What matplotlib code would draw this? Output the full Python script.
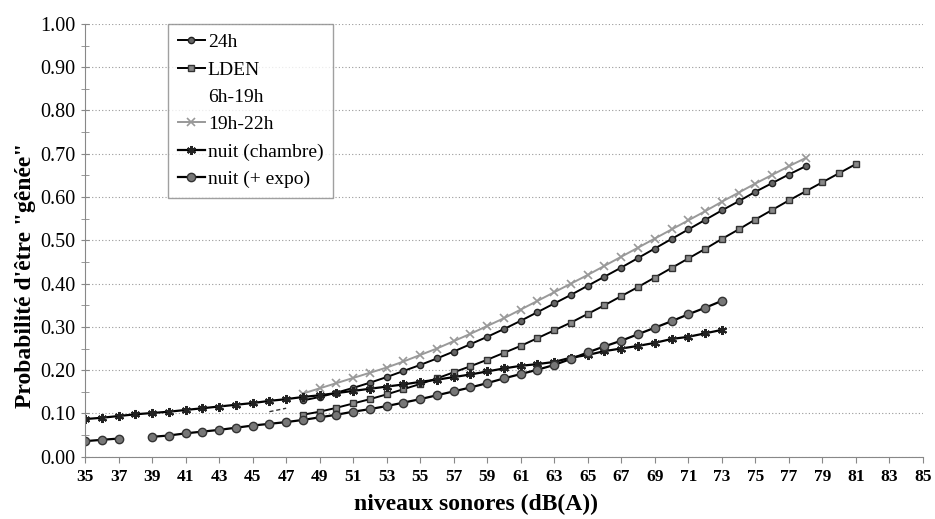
import matplotlib
matplotlib.use('Agg')
import matplotlib.pyplot as plt
import numpy as np

plt.rcParams['font.family'] = ['Liberation Serif', 'DejaVu Serif']

# niveaux sonores (dB(A))
x_24h = list(range(48, 79))
y_24h = [0.130, 0.138, 0.148, 0.159, 0.171, 0.184, 0.198, 0.212, 0.227, 0.243,
         0.260, 0.277, 0.295, 0.314, 0.334, 0.354, 0.374, 0.395, 0.416, 0.437,
         0.459, 0.481, 0.503, 0.525, 0.547, 0.569, 0.590, 0.612, 0.632, 0.652, 0.671]

x_lden = list(range(48, 82))
y_lden = [0.097, 0.104, 0.113, 0.123, 0.133, 0.144, 0.156, 0.168, 0.181, 0.195,
          0.209, 0.224, 0.240, 0.256, 0.274, 0.292, 0.310, 0.330, 0.350, 0.371,
          0.392, 0.414, 0.436, 0.458, 0.480, 0.503, 0.525, 0.548, 0.570, 0.592,
          0.613, 0.634, 0.655, 0.676]

# 6h-19h : only a small fragment is visible
x_6h19 = [46, 47]
y_6h19 = [0.104, 0.112]

x_19h22 = list(range(48, 79))
y_19h22 = [0.146, 0.158, 0.170, 0.182, 0.194, 0.206, 0.220, 0.235, 0.250, 0.267,
           0.284, 0.302, 0.320, 0.340, 0.360, 0.380, 0.400, 0.420, 0.441, 0.462,
           0.483, 0.504, 0.525, 0.546, 0.567, 0.589, 0.610, 0.631, 0.651, 0.671, 0.690]

x_chambre = list(range(35, 74))
y_chambre = [0.087, 0.090, 0.094, 0.098, 0.101, 0.104, 0.108, 0.112, 0.116, 0.120,
             0.124, 0.129, 0.133, 0.138, 0.142, 0.147, 0.152, 0.157, 0.162, 0.167,
             0.173, 0.178, 0.184, 0.190, 0.197, 0.204, 0.210, 0.214, 0.219, 0.229,
             0.235, 0.244, 0.250, 0.256, 0.263, 0.272, 0.277, 0.285, 0.293]

x_expo = list(range(35, 74))
y_expo = [0.036, 0.039, 0.042, np.nan, 0.046, 0.049, 0.054, 0.058, 0.062, 0.067,
          0.072, 0.076, 0.080, 0.085, 0.091, 0.097, 0.104, 0.110, 0.117, 0.125,
          0.133, 0.142, 0.151, 0.160, 0.170, 0.181, 0.191, 0.201, 0.212, 0.226,
          0.241, 0.255, 0.268, 0.283, 0.298, 0.313, 0.329, 0.344, 0.360]

fig = plt.figure(figsize=(9.35, 5.19), dpi=100)
ax = fig.add_axes([0.091, 0.120, 0.896, 0.834])

ax.plot(x_24h, y_24h, color='black', lw=1.4, marker='o', ms=4.5,
        mfc='#666666', mec='#222222', label='24h')
ax.plot(x_lden, y_lden, color='black', lw=1.4, marker='s', ms=4.5,
        mfc='#888888', mec='#333333', label='LDEN')
ax.plot(x_6h19, y_6h19, color='#333333', lw=1, ls=(0, (3, 2)), label='6h-19h')
ax.plot(x_19h22, y_19h22, color='#999999', lw=1.4, marker='x', ms=6,
        mew=1.2, mec='#999999', label='19h-22h')
ax.plot(x_chambre, y_chambre, color='black', lw=1.6, marker=(6, 2, 0), ms=6.5,
        mew=1.5, mec='#222222', label='nuit (chambre)')
ax.plot(x_expo, y_expo, color='black', lw=1.6, marker='o', ms=6,
        mfc='#777777', mec='#333333', label='nuit (+ expo)')

ax.set_xlim(35, 85)
ax.set_ylim(0, 1.0)
ax.set_xticks(range(35, 86, 2))
ax.set_yticks(np.arange(0, 1.01, 0.1))
ax.set_yticks(np.arange(0.05, 1.0, 0.1), minor=True)
ax.set_yticklabels(['%.2f' % v for v in np.arange(0, 1.01, 0.1)], fontsize=14.5)
ax.set_xticklabels([str(v) for v in range(35, 86, 2)], fontsize=12.5, fontweight='bold')
ax.tick_params(axis='x', direction='out', length=4, color='#888888', pad=5)
ax.tick_params(axis='y', which='both', direction='inout', length=6, color='#888888', pad=4)

ax.yaxis.grid(True, ls=(0, (1, 2)), color='#999999', lw=0.8)
for s in ['top', 'right']:
    ax.spines[s].set_visible(False)
ax.spines['left'].set_color('#888888')
ax.spines['bottom'].set_color('#888888')

ax.set_xlabel('niveaux sonores (dB(A))', fontsize=17, fontweight='bold')
ax.xaxis.set_label_coords(0.467, -0.085)
ax.set_ylabel('Probabilité d\'être "gênée"', fontsize=17, fontweight='bold')
ax.yaxis.set_label_coords(-0.058, 0.42)

leg = ax.legend(loc='upper left', bbox_to_anchor=(0.099, 1.0), fontsize=14,
                frameon=True, fancybox=False, edgecolor='#888888',
                handlelength=1.4, handletextpad=0.15, borderpad=0.5,
                labelspacing=0.5, borderaxespad=0)
leg.get_frame().set_linewidth(1.0)
leg.legend_handles[2].set_visible(False)

plt.savefig('out.png', dpi=100)
